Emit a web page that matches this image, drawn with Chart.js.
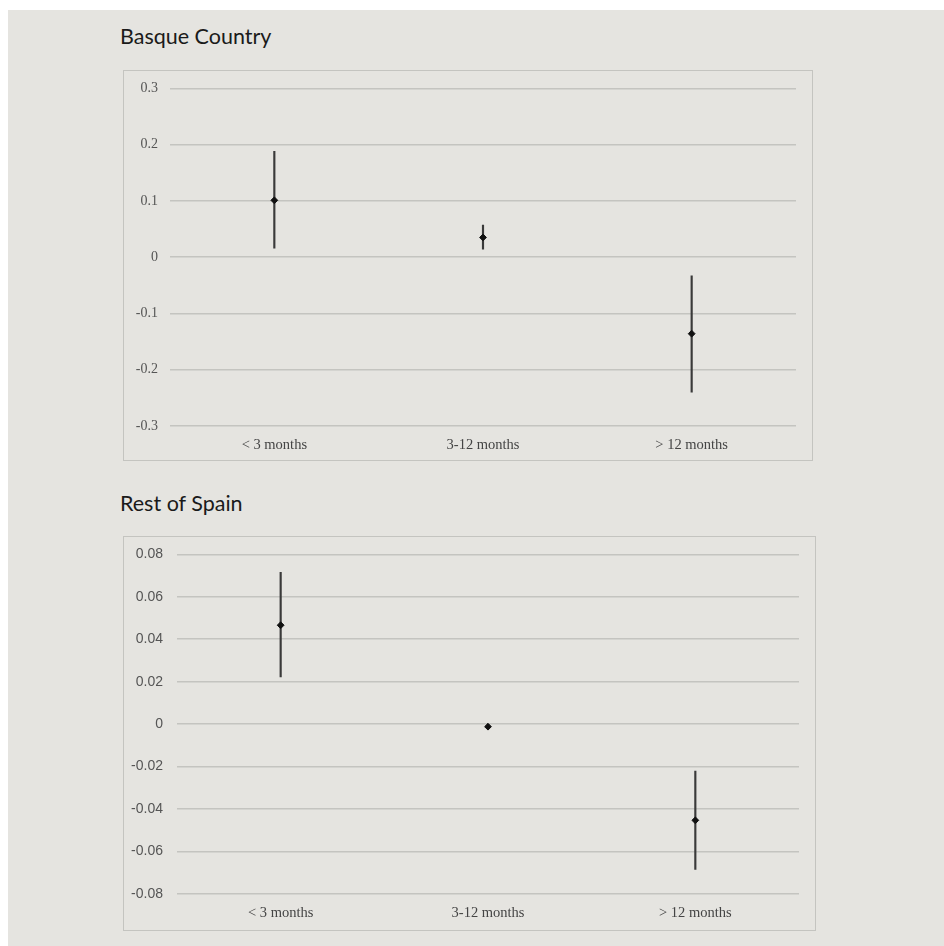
<!DOCTYPE html>
<html>
<head>
<meta charset="utf-8">
<script src="https://cdn.jsdelivr.net/npm/chart.js@4"></script>
<style>
  html,body{margin:0;padding:0;background:#fff;}
  .panel{position:absolute;left:8px;top:10px;width:936px;height:936px;background:#e5e4e0;}
  .title{position:absolute;left:120px;font-family:Lato,"Noto Sans",sans-serif;font-size:21.5px;color:#1a1a1a;line-height:1;}
  .box{position:absolute;border:1px solid #c4c4c0;box-sizing:border-box;}
  .box canvas{position:absolute;left:0;top:0;}
</style>
</head>
<body>
<div class="panel"></div>
<div class="title" style="top:26px">Basque Country</div>
<div class="box" id="box1" style="left:123px;top:70px;width:690px;height:391px"><canvas id="c1"></canvas></div>
<div class="title" style="top:493px">Rest of Spain</div>
<div class="box" id="box2" style="left:123px;top:536px;width:693px;height:395px"><canvas id="c2"></canvas></div>
<script>
const categories = ["< 3 months","3-12 months","> 12 months"];

// Basque Country: estimate with confidence bounds
const basqueEst  = [0.101, 0.035, -0.136];
const basqueLow  = [0.016, 0.014, -0.240];
const basqueHigh = [0.188, 0.057, -0.033];
const basqueTicks = [-0.3,-0.2,-0.1,0,0.1,0.2,0.3];

// Rest of Spain
const spainEst  = [0.0466, -0.0012, -0.0453];
const spainLow  = [0.0223, -0.0022, -0.0684];
const spainHigh = [0.0715, -0.0002, -0.0221];
const spainTicks = [-0.08,-0.06,-0.04,-0.02,0,0.02,0.04,0.06,0.08];

function draw(id, est, low, high, ticks, o){
  const cv = document.getElementById(id);
  cv.width = o.w; cv.height = o.h;
  cv.style.width = o.w+"px"; cv.style.height = o.h+"px";
  return new Chart(cv,{
    data:{
      labels:categories,
      datasets:[
        {
          type:"line",
          data:est,
          showLine:false,
          pointRadius:3.4,
          pointHoverRadius:3.4,
          pointStyle:"rectRot",
          pointBackgroundColor:"#111",
          pointBorderColor:"#111",
          pointBorderWidth:1,
          order:0
        },
        {
          type:"bar",
          data:low.map((v,i)=>[v,high[i]]),
          backgroundColor:"#3a3a3a",
          borderWidth:0,
          barThickness:1.5,
          grouped:false,
          order:1
        }
      ]
    },
    options:{
      responsive:false,
      animation:false,
      events:[],
      layout:{ padding:{left:0,right:o.padR,top:o.padT,bottom:0} },
      plugins:{ legend:{display:false}, tooltip:{enabled:false} },
      scales:{
        x:{
          offset:true,
          grid:{display:false,drawTicks:false},
          border:{display:false},
          ticks:{color:"#444",font:{family:"'Liberation Serif','Times New Roman',serif",size:14.5},padding:10,maxRotation:0},
          afterFit:s=>{ s.height = o.xh; }
        },
        y:{
          min:ticks[0], max:ticks[ticks.length-1],
          afterBuildTicks:s=>{ s.ticks = ticks.map(v=>({value:v})); },
          grid:{color:"#c4c4c0",lineWidth:1.5,drawTicks:false},
          border:{display:false},
          ticks:{color:"#555",font:{family:o.yFont,size:14},padding:o.yPad,callback:v=>String(v)},
          afterFit:s=>{ s.width = o.yw; s.paddingTop = 0; s.paddingBottom = 0; }
        }
      }
    }
  });
}

draw("c1", basqueEst, basqueLow, basqueHigh, basqueTicks,
  {w:688,h:389,padR:16,padT:17.3,xh:34,yw:46,yPad:12,yFont:"'Liberation Serif','Times New Roman',serif"});
draw("c2", spainEst, spainLow, spainHigh, spainTicks,
  {w:691,h:393,padR:16,padT:17.3,xh:36,yw:53,yPad:14,yFont:"'Liberation Sans',Arial,sans-serif"});
</script>
</body>
</html>
